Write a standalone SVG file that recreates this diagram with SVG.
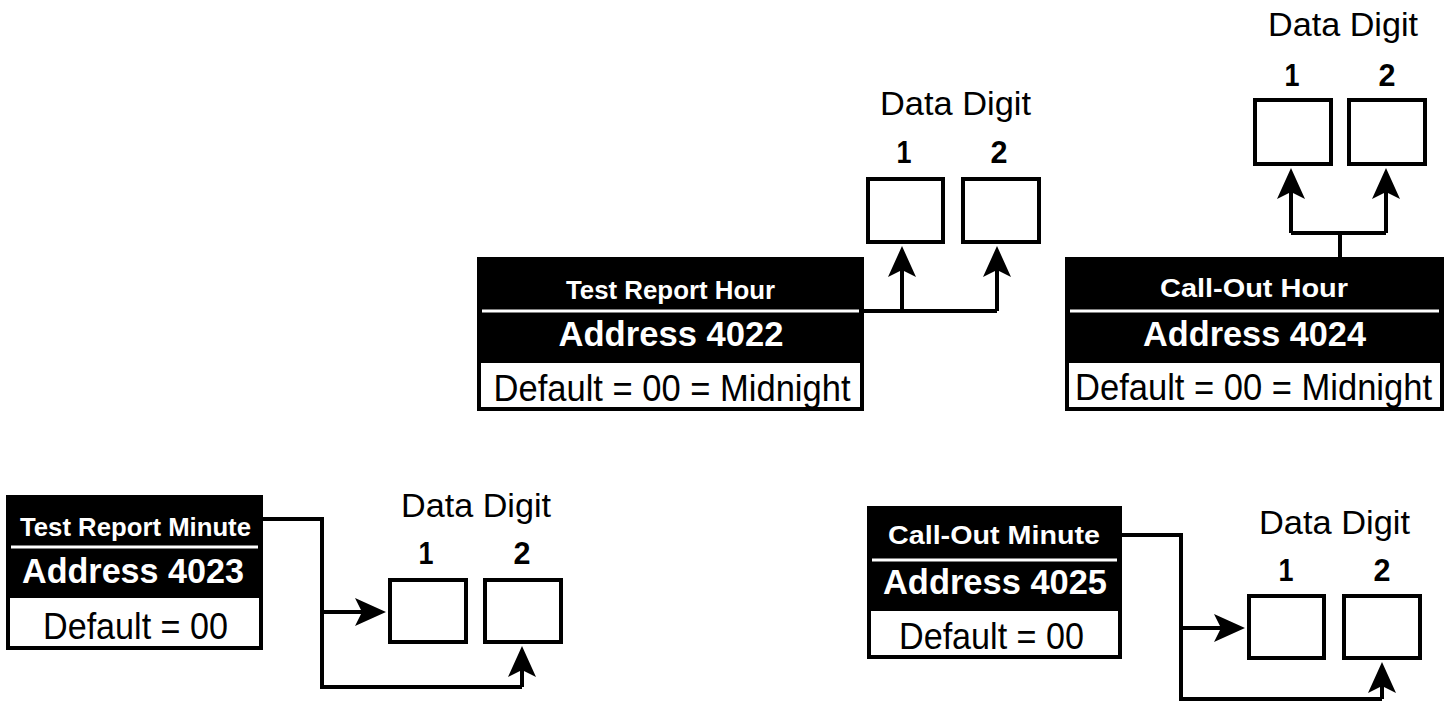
<svg xmlns="http://www.w3.org/2000/svg" width="1454" height="704" viewBox="0 0 1454 704">
<style>
text{font-family:"Liberation Sans",Arial,sans-serif;text-anchor:middle}
.hdr{fill:#000}
.body{fill:#fff}
.sep{stroke:#fff;stroke-width:3}
.ttl{fill:#fff;font-weight:bold;font-size:25px}
.adr{fill:#fff;font-weight:bold;font-size:35px}
.def{fill:#000;font-size:36px}
.dd{fill:#000;font-size:33px}
.num{fill:#000;font-weight:bold;font-size:31px}
.box{fill:#fff;stroke:#000;stroke-width:4}
.con{fill:none;stroke:#000;stroke-width:4}
.arr{fill:none;stroke:#000;stroke-width:4;marker-end:url(#ah)}
</style>
<defs>
<marker id="ah" viewBox="0 0 32 30" refX="7" refY="15" markerWidth="32" markerHeight="30" orient="auto" markerUnits="userSpaceOnUse">
<path d="M0,1 L31,15 L0,29 L7,15 Z" fill="#000"/>
</marker>
</defs>

<g id="node-test-report-hour">
<rect class="hdr" x="477" y="257" width="387" height="154"/>
<rect class="body" x="481" y="363" width="379" height="44"/>
<line class="sep" x1="482" y1="311" x2="859" y2="311"/>
<text class="ttl" x="670.5" y="299" textLength="209" lengthAdjust="spacingAndGlyphs">Test Report Hour</text>
<text class="adr" x="671" y="346" textLength="225" lengthAdjust="spacingAndGlyphs">Address 4022</text>
<text class="def" x="672" y="401" textLength="357" lengthAdjust="spacingAndGlyphs">Default = 00 = Midnight</text>
</g>

<g id="digits-4022">
<text class="dd" x="955.5" y="115" textLength="151" lengthAdjust="spacingAndGlyphs">Data Digit</text>
<text class="num" x="904" y="163" textLength="15" lengthAdjust="spacingAndGlyphs">1</text>
<text class="num" x="999" y="163" textLength="17" lengthAdjust="spacingAndGlyphs">2</text>
<rect class="box" x="868" y="179" width="75" height="63"/>
<rect class="box" x="963" y="179" width="76" height="63"/>
</g>

<g id="node-call-out-hour">
<rect class="hdr" x="1065" y="257" width="379" height="154"/>
<rect class="body" x="1069" y="363" width="371" height="44"/>
<line class="sep" x1="1070" y1="311" x2="1439" y2="311"/>
<text class="ttl" x="1254" y="297" textLength="188" lengthAdjust="spacingAndGlyphs">Call-Out Hour</text>
<text class="adr" x="1254.5" y="346" textLength="223" lengthAdjust="spacingAndGlyphs">Address 4024</text>
<text class="def" x="1253.5" y="400" textLength="357" lengthAdjust="spacingAndGlyphs">Default = 00 = Midnight</text>
</g>

<g id="digits-4024">
<text class="dd" x="1343" y="36" textLength="150" lengthAdjust="spacingAndGlyphs">Data Digit</text>
<text class="num" x="1292" y="86" textLength="15" lengthAdjust="spacingAndGlyphs">1</text>
<text class="num" x="1387" y="86" textLength="17" lengthAdjust="spacingAndGlyphs">2</text>
<rect class="box" x="1255" y="100" width="76" height="64"/>
<rect class="box" x="1349" y="100" width="76" height="64"/>
</g>

<g id="node-test-report-minute">
<rect class="hdr" x="6" y="495" width="257" height="155"/>
<rect class="body" x="10" y="598" width="249" height="48"/>
<line class="sep" x1="11" y1="547" x2="258" y2="547"/>
<text class="ttl" x="135.5" y="536" textLength="231" lengthAdjust="spacingAndGlyphs">Test Report Minute</text>
<text class="adr" x="133" y="583" textLength="222" lengthAdjust="spacingAndGlyphs">Address 4023</text>
<text class="def" x="135.5" y="639" textLength="185" lengthAdjust="spacingAndGlyphs">Default = 00</text>
</g>

<g id="digits-4023">
<text class="dd" x="476" y="517" textLength="150" lengthAdjust="spacingAndGlyphs">Data Digit</text>
<text class="num" x="426" y="564" textLength="15" lengthAdjust="spacingAndGlyphs">1</text>
<text class="num" x="522" y="564" textLength="17" lengthAdjust="spacingAndGlyphs">2</text>
<rect class="box" x="390" y="580" width="76" height="62"/>
<rect class="box" x="485" y="580" width="76" height="62"/>
</g>

<g id="node-call-out-minute">
<rect class="hdr" x="867" y="506" width="255" height="153"/>
<rect class="body" x="871" y="611" width="247" height="44"/>
<line class="sep" x1="872" y1="560" x2="1117" y2="560"/>
<text class="ttl" x="994" y="544" textLength="212" lengthAdjust="spacingAndGlyphs">Call-Out Minute</text>
<text class="adr" x="995" y="594" textLength="224" lengthAdjust="spacingAndGlyphs">Address 4025</text>
<text class="def" x="991.5" y="649" textLength="185" lengthAdjust="spacingAndGlyphs">Default = 00</text>
</g>

<g id="digits-4025">
<text class="dd" x="1334.5" y="534" textLength="151" lengthAdjust="spacingAndGlyphs">Data Digit</text>
<text class="num" x="1286" y="581" textLength="15" lengthAdjust="spacingAndGlyphs">1</text>
<text class="num" x="1382" y="581" textLength="17" lengthAdjust="spacingAndGlyphs">2</text>
<rect class="box" x="1249" y="596" width="75" height="62"/>
<rect class="box" x="1344" y="596" width="76" height="62"/>
</g>

<g id="connectors">
<path class="con" d="M864,311 H997"/>
<path class="arr" d="M902,311 V270"/>
<path class="arr" d="M997,311 V270"/>
<path class="con" d="M1340,257 V233 M1291,233 H1386"/>
<path class="arr" d="M1291,233 V192"/>
<path class="arr" d="M1386,233 V192"/>
<path class="con" d="M263,519 H322 V687 H522"/>
<path class="arr" d="M522,687 V670"/>
<path class="arr" d="M322,612 H362"/>
<path class="con" d="M1122,535 H1181 V699 H1382"/>
<path class="arr" d="M1382,699 V686"/>
<path class="arr" d="M1181,628 H1221"/>
</g>
</svg>
